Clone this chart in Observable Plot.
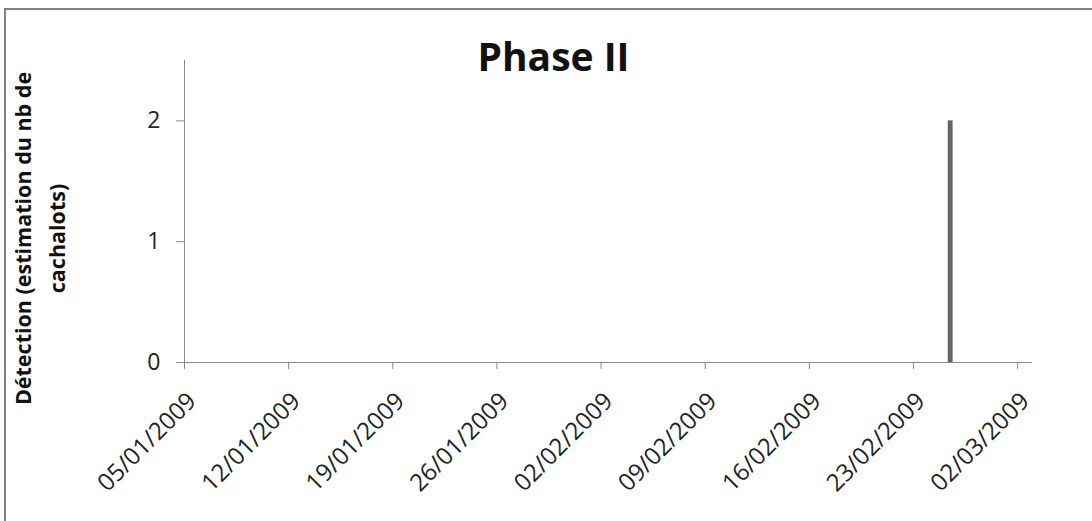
<!DOCTYPE html>
<html>
<head>
<meta charset="utf-8">
<script src="https://cdn.jsdelivr.net/npm/d3@7"></script>
<script src="https://cdn.jsdelivr.net/npm/@observablehq/plot@0.6"></script>
<style>
  html, body { margin: 0; padding: 0; background: #fff; overflow: hidden; }
  #wrap { position: relative; width: 1092px; height: 521px; }
  #frame { position: absolute; left: 4px; top: 8px; width: 1200px; height: 600px;
           border-top: 2px solid #808080; border-left: 2px solid #808080; box-sizing: border-box; }
  #chart { position: absolute; left: 0; top: 0; }
</style>
</head>
<body>
<div id="wrap"><div id="frame"></div><div id="chart"></div></div>
<script>
const title = "Phase II";
const yLabel = "Détection (estimation du nb de\ncachalots)";
const detectionDates = ["2009-02-25"];
const detectionCounts = [2];
const tickDates = ["2009-01-05","2009-01-12","2009-01-19","2009-01-26","2009-02-02","2009-02-09","2009-02-16","2009-02-23","2009-03-02"];
const xDomain = ["2009-01-05", "2009-03-03"];
const yDomain = [0, 2.5];
const yTicks = [0, 1, 2];

const data = detectionDates.map((d, i) => ({date: new Date(d), value: detectionCounts[i]}));
const ticks = tickDates.map(d => new Date(d));
const axisColor = "#888888";
const fmt = d3.utcFormat("%d/%m/%Y");

const plot = Plot.plot({
  width: 1092,
  height: 521,
  marginLeft: 184,
  marginRight: 60,
  marginTop: 60,
  marginBottom: 159,
  style: {fontFamily: "'Open Sans', sans-serif", background: "transparent", overflow: "visible"},
  x: {type: "utc", domain: xDomain.map(d => new Date(d))},
  y: {domain: yDomain},
  marks: [
    Plot.rectY(data, {x: "date", y: "value", interval: "day", insetLeft: 5, insetRight: 5, fill: "#646464"}),
    Plot.ruleY([0], {stroke: axisColor, strokeWidth: 1}),
    Plot.ruleX([new Date(xDomain[0])], {y1: yDomain[0], y2: yDomain[1], stroke: axisColor, strokeWidth: 1}),
    Plot.axisY({ticks: yTicks, tickFormat: "d", tickSize: 8, tickPadding: 16, stroke: axisColor, fill: "#222", fontSize: 23, label: null}),
    Plot.axisX({ticks: ticks, tickSize: 7, stroke: axisColor, fill: "none", label: null}),
    Plot.text(ticks, {x: d => d, text: d => fmt(d), frameAnchor: "bottom", rotate: -45, textAnchor: "end",
      lineAnchor: "top", dx: 1, dy: 28, fontSize: 24, fill: "#222"}),
    Plot.text([yLabel], {frameAnchor: "left", rotate: -90, dx: -147, dy: 27, fontSize: 21.5, fontWeight: "bold",
      fill: "#111", textAnchor: "middle", lineAnchor: "middle", lineHeight: 1.58}),
    Plot.text([title], {frameAnchor: "top", dx: -55, dy: 10, fontSize: 39, fontWeight: "bold", fill: "#111",
      lineAnchor: "bottom"})
  ]
});
document.getElementById("chart").appendChild(plot);
</script>
</body>
</html>
